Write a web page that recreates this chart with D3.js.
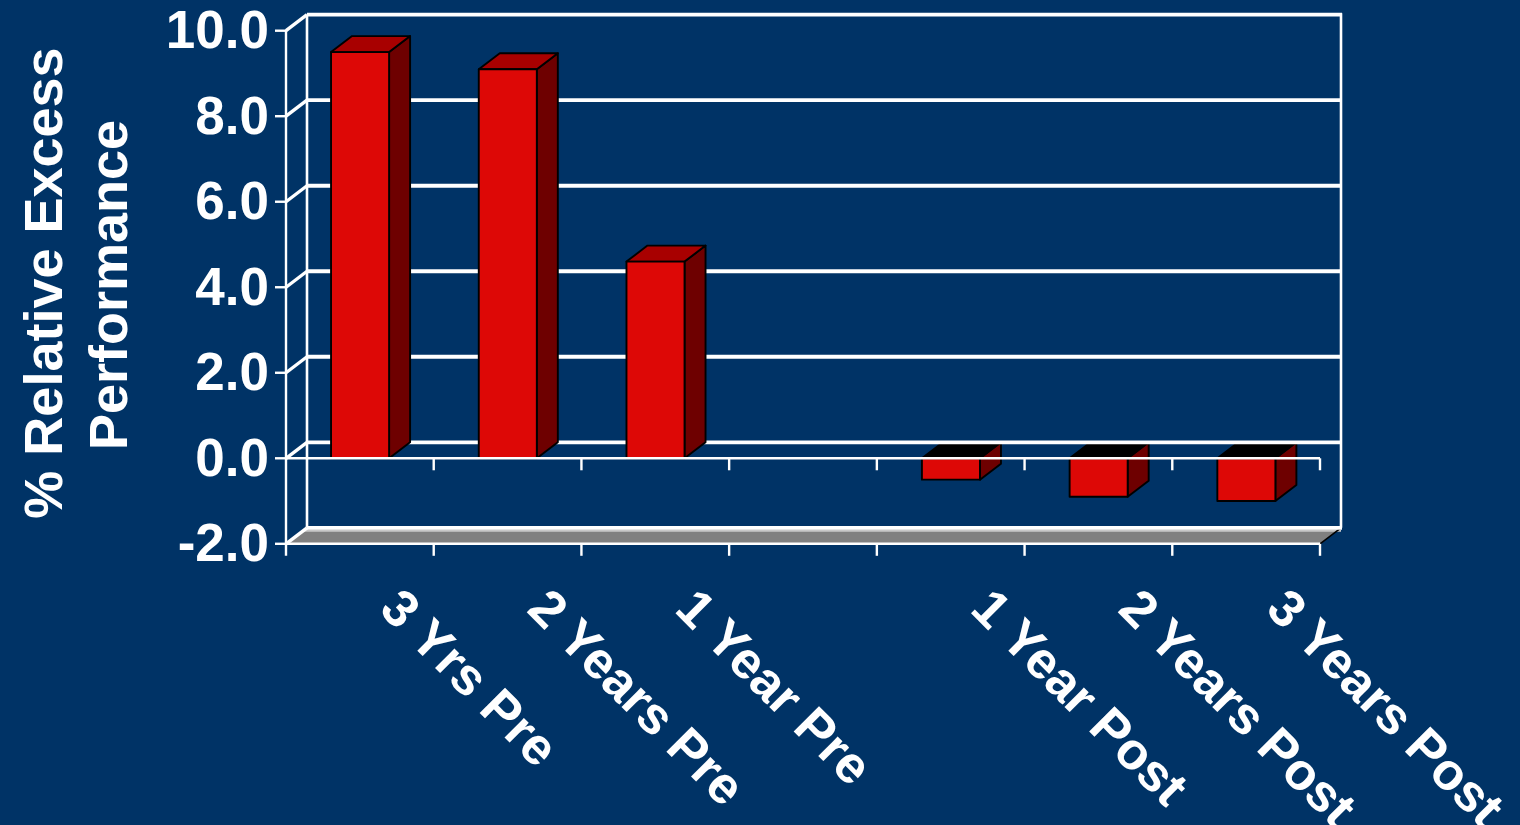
<!DOCTYPE html>
<html>
<head>
<meta charset="utf-8">
<script src="https://cdn.jsdelivr.net/npm/d3@7/dist/d3.min.js"></script>
<style>
  html, body { margin: 0; padding: 0; background: #003366; }
  svg { display: block; }
  text { font-family: "Liberation Sans", Arial, sans-serif; font-weight: bold; fill: #ffffff; }
</style>
</head>
<body>
<svg id="chart" width="1520" height="825"></svg>
<script>
// Relative excess performance around the event year
const categories = ["3 Yrs Pre", "2 Years Pre", "1 Year Pre", " ", "1 Year Post", "2 Years Post", "3 Years Post"];
const values = [9.5, 9.1, 4.6, null, -0.5, -0.9, -1.0];
const yTicks = [-2, 0, 2, 4, 6, 8, 10];
const yTitle = ["% Relative Excess", "Performance"];

const DX = 21, DY = -16;           // depth offset of the 3D box
const svg = d3.select("#chart");

const x = d3.scaleBand().domain(categories).range([286, 1320]);
const y = d3.scaleLinear().domain([-2, 10]).range([543.8, 30.7]);
const bw = x.bandwidth();
const barX = c => x(c) + bw * 0.305;
const barW = bw * 0.393;

const fmt = v => d3.format(".1f")(v).replace("\u2212", "-");
const pts = arr => arr.map(p => p.join(",")).join(" ");

// Floor at the axis minimum
const yMin = y(-2);
svg.append("polygon")
  .attr("points", pts([[286, yMin], [1320, yMin], [1320 + DX, yMin + DY], [286 + DX, yMin + DY]]))
  .attr("fill", "#808080");
svg.append("line")
  .attr("x1", 286 + DX - 3).attr("x2", 1320 + DX).attr("y1", yMin + DY + 3).attr("y2", yMin + DY + 3)
  .attr("stroke", "#c8c8c8").attr("stroke-width", 2);
svg.append("line")
  .attr("x1", 1320).attr("y1", yMin).attr("x2", 1320 + DX).attr("y2", yMin + DY)
  .attr("stroke", "#000").attr("stroke-width", 1.5);

// Back wall gridlines (zero line drawn later, between bar layers)
const grid = svg.append("g").attr("stroke", "#fff").attr("stroke-width", 3.8);
grid.selectAll("line.h")
  .data(yTicks.filter(v => v !== 0))
  .join("line")
  .attr("x1", 286 + DX).attr("x2", 1320 + DX + 1)
  .attr("y1", d => y(d) + DY).attr("y2", d => y(d) + DY);

// Side wall diagonals
grid.selectAll("line.d")
  .data(yTicks)
  .join("line")
  .attr("x1", 286).attr("y1", d => y(d))
  .attr("x2", 286 + DX).attr("y2", d => y(d) + DY)
  .attr("stroke-width", 3.4);

// Back wall vertical edges
svg.append("line").attr("x1", 286 + DX).attr("x2", 286 + DX).attr("y1", y(10) + DY).attr("y2", yMin + DY)
  .attr("stroke", "#fff").attr("stroke-width", 2.6);
svg.append("line").attr("x1", 1320 + DX).attr("x2", 1320 + DX).attr("y1", y(10) + DY - 1.5).attr("y2", yMin + DY)
  .attr("stroke", "#fff").attr("stroke-width", 2.6);

// 3D bars
const data = categories.map((c, i) => ({c, v: values[i]})).filter(d => d.v !== null);

function drawBars(sel) {
  const g = svg.append("g").selectAll("g").data(sel).join("g")
    .attr("stroke", "#000").attr("stroke-width", 1.9).attr("stroke-linejoin", "round");
  const top = d => y(Math.max(d.v, 0));
  const bot = d => y(Math.min(d.v, 0));
  // side face
  g.append("polygon")
    .attr("fill", "#6e0000")
    .attr("points", d => {
      const x1 = barX(d.c) + barW;
      return pts([[x1, top(d)], [x1 + DX, top(d) + DY], [x1 + DX, bot(d) + DY], [x1, bot(d)]]);
    });
  // top face
  g.append("polygon")
    .attr("fill", d => d.v >= 0 ? "#a80000" : "#000")
    .attr("points", d => {
      const x0 = barX(d.c), x1 = x0 + barW, t = top(d);
      return pts([[x0, t], [x0 + DX, t + DY], [x1 + DX, t + DY], [x1, t]]);
    });
  // front face
  g.append("rect")
    .attr("fill", "#dd0806")
    .attr("x", d => barX(d.c)).attr("width", barW)
    .attr("y", top).attr("height", d => bot(d) - top(d));
}

drawBars(data.filter(d => d.v < 0));

// Zero gridline on the back wall
svg.append("line")
  .attr("x1", 286 + DX).attr("x2", 1320 + DX + 1)
  .attr("y1", y(0) + DY).attr("y2", y(0) + DY)
  .attr("stroke", "#fff").attr("stroke-width", 3.8);

drawBars(data.filter(d => d.v >= 0));

// Front axes
const axes = svg.append("g").attr("stroke", "#fff").attr("stroke-width", 2.4);
axes.append("line").attr("x1", 286).attr("x2", 286).attr("y1", y(10)).attr("y2", yMin + 12);
axes.selectAll("line.yt").data(yTicks).join("line")
  .attr("x1", 275).attr("x2", 286).attr("y1", d => y(d)).attr("y2", d => y(d));
[0, -2].forEach(v => {
  axes.append("line").attr("x1", 286).attr("x2", 1320).attr("y1", y(v)).attr("y2", y(v));
  axes.selectAll(null).data(categories.map(c => x(c) + bw)).join("line")
    .attr("x1", d => d).attr("x2", d => d).attr("y1", y(v)).attr("y2", y(v) + 12);
});

// Y tick labels
svg.append("g").selectAll("text").data(yTicks).join("text")
  .attr("x", 269).attr("y", d => y(d)).attr("dy", "0.33em")
  .attr("text-anchor", "end").style("font-size", "53px")
  .text(d => fmt(d));

// Y axis title
svg.append("g").selectAll("text").data(yTitle).join("text")
  .attr("transform", (d, i) => `translate(${62 + i * 65},${283 + i * 2}) rotate(-90)`)
  .attr("text-anchor", "middle").style("font-size", "54px")
  .text(d => d);

// Category labels, slanted
svg.append("g").selectAll("text").data(categories.filter(c => c.trim() !== "")).join("text")
  .attr("transform", c => `translate(${x(c) + bw / 2 + 18},611) rotate(45)`)
  .attr("text-anchor", "start").style("font-size", "52px")
  .text(c => c);
</script>
</body>
</html>
